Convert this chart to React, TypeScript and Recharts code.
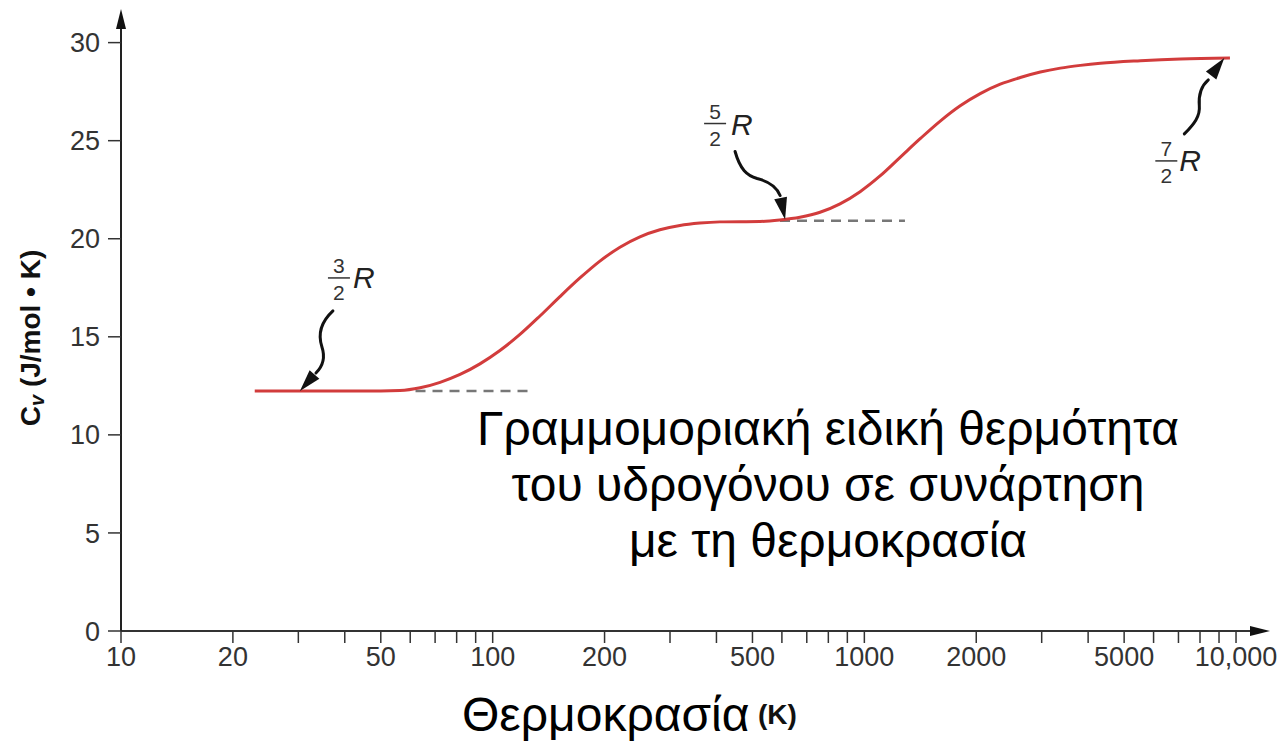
import { LineChart, Line, XAxis, YAxis, ReferenceLine, ReferenceDot } from "recharts";

// temperature (K) and molar heat capacity Cv (J/mol·K)
const temperatures = [
  22.9, 30, 40, 50, 56.3, 63.8, 72.2, 81.7, 92.4, 104.6, 118.4, 134, 151.7, 171.7, 194.3, 220, 249, 281.8, 319,
  361, 408.6, 523.6, 592.6, 671, 760, 860, 974, 1102, 1248, 1413, 1600, 1811, 2050, 2321, 2627, 2975, 3368, 3813,
  4316, 5532, 7090, 9630,
];
const heatCapacity = [
  12.24, 12.24, 12.24, 12.24, 12.26, 12.4, 12.68, 13.08, 13.62, 14.3, 15.12, 16.06, 17.05, 18.0, 18.86, 19.57,
  20.1, 20.46, 20.68, 20.8, 20.86, 20.88, 20.96, 21.1, 21.35, 21.78, 22.4, 23.2, 24.15, 25.1, 26.0, 26.78, 27.4,
  27.88, 28.22, 28.5, 28.7, 28.84, 28.95, 29.08, 29.17, 29.22,
];

const xTicks = [
  10, 20, 30, 40, 50, 60, 70, 80, 90, 100, 200, 300, 400, 500, 600, 700, 800, 900, 1000, 2000, 3000, 4000, 5000,
  6000, 7000, 8000, 9000, 10000,
];
const xLabeled = [10, 20, 50, 100, 200, 500, 1000, 2000, 5000, 10000];
const yTicks = [0, 5, 10, 15, 20, 25, 30];

// dashed plateau guides: [fromT, toT, Cv]
const guideFrom = [62, 593];
const guideTo = [126, 1286];
const guideLevel = [12.24, 20.92];

// arrow tips on the curve and their fraction labels
const noteT = [30.3, 612, 9300];
const noteCv = [12.24, 20.98, 29.22];
const noteNumerator = ["3", "5", "7"];

const title = ["Γραμμομοριακή ειδική θερμότητα", "του υδρογόνου σε συνάρτηση", "με τη θερμοκρασία"];

const FONT = '"Liberation Sans", Arial, sans-serif';
const RED = "#d23c3c";
const AXIS = "#333";

const data = temperatures.map((t, i) => ({ t, cv: heatCapacity[i] }));

// shaft path (relative to tip), arrowhead base point, label placement
const noteStyles = [
  { shaft: "M 33 -80 C 20 -68 18 -56 22 -44 C 26 -32 22 -24 16 -18", base: [15, -17], frac: [39, -113], r: [53, -103] },
  { shaft: "M -50 -68 C -45 -50 -38 -44 -28 -41 C -16 -38 -8 -32 -5 -24", base: [-5, -24], frac: [-70, -96], r: [-54, -85] },
  { shaft: "M -40 76 C -30 66 -24 58 -25 48 C -26 36 -23 28 -16 22", base: [-15, 20], frac: [-58, 103], r: [-45, 113] },
];

function Note({ cx, cy, idx }: { cx: number; cy: number; idx: number }) {
  const s = noteStyles[idx];
  const [bx, by] = s.base;
  const len = Math.hypot(bx, by);
  const ux = -bx / len;
  const uy = -by / len;
  const head = 22;
  const hw = 6.5;
  const hbx = -ux * head;
  const hby = -uy * head;
  const pts = `0,0 ${hbx - uy * hw},${hby + ux * hw} ${hbx + uy * hw},${hby - ux * hw}`;
  const [fx, fy] = s.frac;
  const [rx, ry] = s.r;
  return (
    <g transform={`translate(${cx},${cy})`}>
      <path d={s.shaft} fill="none" stroke="#111" strokeWidth={3} strokeLinecap="round" />
      <polygon points={pts} fill="#111" />
      <text x={fx} y={fy - 5} textAnchor="middle" fontFamily={FONT} fontSize={21} fill="#333">
        {noteNumerator[idx]}
      </text>
      <line x1={fx - 11} x2={fx + 11} y1={fy} y2={fy} stroke="#333" strokeWidth={1.5} />
      <text x={fx} y={fy + 22} textAnchor="middle" fontFamily={FONT} fontSize={21} fill="#333">
        2
      </text>
      <text x={rx} y={ry} fontFamily={FONT} fontSize={30} fontStyle="italic" fill="#222">
        R
      </text>
    </g>
  );
}

function XLabel({ viewBox }: any) {
  const x = viewBox.x;
  const y = viewBox.y;
  return (
    <g>
      <text x={x + 341} y={y + 100} fontFamily={FONT} fontSize={48} fill="#000">
        Θερμοκρασία
      </text>
      <text x={x + 637} y={y + 93} fontFamily={FONT} fontSize={28} fontWeight="bold" fill="#111">
        (K)
      </text>
    </g>
  );
}

function YLabel({ viewBox }: any) {
  const x = viewBox.x + 30;
  const y = 338;
  return (
    <text
      x={x}
      y={y}
      transform={`rotate(-90 ${x} ${y})`}
      textAnchor="middle"
      dominantBaseline="central"
      fontFamily={FONT}
      fontWeight="bold"
      fontSize={28}
      fill="#111"
    >
      C
      <tspan fontSize={20} fontStyle="italic" dy={7}>
        v
      </tspan>
      <tspan dy={-7}> (J/mol • K)</tspan>
    </text>
  );
}

export default function App() {
  return (
    <div style={{ position: "fixed", left: 0, top: 0, width: 1277, height: 741, background: "#fff" }}>
      <LineChart width={1277} height={741} data={data} margin={{ top: 23, right: 25, left: 0, bottom: 50 }}>
        <XAxis
          dataKey="t"
          type="number"
          scale="log"
          domain={[10, 11040]}
          allowDataOverflow
          ticks={xTicks}
          interval={0}
          height={60}
          tickSize={12}
          tickMargin={4}
          tickFormatter={(v: number) => (xLabeled.includes(v) ? (v === 10000 ? "10,000" : String(v)) : "")}
          tick={{ fill: AXIS, fontSize: 27, fontFamily: FONT }}
          axisLine={{ stroke: AXIS, strokeWidth: 2 }}
          tickLine={{ stroke: AXIS, strokeWidth: 1.5 }}
          label={<XLabel />}
        />
        <YAxis
          type="number"
          domain={[0, 31]}
          ticks={yTicks}
          interval={0}
          width={121}
          tickSize={13}
          tickMargin={8}
          tick={{ fill: AXIS, fontSize: 27, fontFamily: FONT }}
          axisLine={{ stroke: "#222", strokeWidth: 2 }}
          tickLine={{ stroke: AXIS, strokeWidth: 1.5 }}
          label={<YLabel />}
        />
        {guideFrom.map((from, i) => (
          <ReferenceLine
            key={`g${i}`}
            segment={[
              { x: from, y: guideLevel[i] },
              { x: guideTo[i], y: guideLevel[i] },
            ]}
            stroke="#777"
            strokeWidth={2.5}
            strokeDasharray="10 7"
            ifOverflow="visible"
          />
        ))}
        <Line
          type="monotone"
          dataKey="cv"
          stroke={RED}
          strokeWidth={3}
          dot={false}
          isAnimationActive={false}
        />
        {noteT.map((t, i) => (
          <ReferenceDot
            key={`n${i}`}
            x={t}
            y={noteCv[i]}
            r={0}
            ifOverflow="visible"
            shape={(p: any) => <Note cx={p.cx} cy={p.cy} idx={i} />}
          />
        ))}
        <ReferenceDot
          x={10}
          y={31}
          r={0}
          ifOverflow="visible"
          shape={(p: any) => (
            <polygon points={`${p.cx},${p.cy - 14} ${p.cx - 5},${p.cy + 6} ${p.cx + 5},${p.cy + 6}`} fill="#111" />
          )}
        />
        <ReferenceDot
          x={11040}
          y={0}
          r={0}
          ifOverflow="visible"
          shape={(p: any) => (
            <polygon points={`${p.cx + 18},${p.cy} ${p.cx - 2},${p.cy - 5} ${p.cx - 2},${p.cy + 5}`} fill="#111" />
          )}
        />
      </LineChart>
      <div
        style={{
          position: "absolute",
          left: 428,
          top: 401,
          width: 800,
          textAlign: "center",
          fontFamily: FONT,
          fontSize: 48,
          lineHeight: "56px",
          color: "#000",
          pointerEvents: "none",
        }}
      >
        {title.map((line) => (
          <div key={line}>{line}</div>
        ))}
      </div>
    </div>
  );
}
